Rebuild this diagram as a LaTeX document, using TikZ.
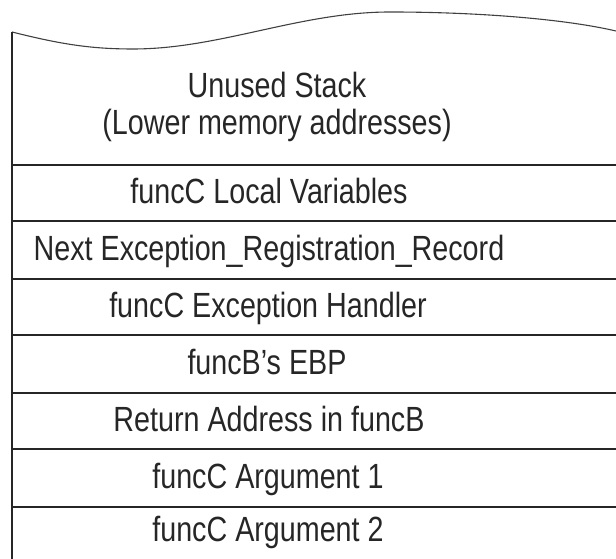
\documentclass[tikz,border=0pt]{standalone}
\usepackage{fontspec}
\setmainfont{Liberation Sans}[FakeStretch=0.82]
\begin{document}
\begin{tikzpicture}[x=1pt,y=1pt,
  frame/.style={line width=1.6pt, draw=black!85},
  wave/.style={line width=1.1pt, draw=black!75},
  cell/.style={anchor=base, inner sep=0pt, font=\fontsize{35}{37.5}\selectfont, text=black!85}]
  \useasboundingbox (0,0) rectangle (616,559);

  % torn top edge of the stack
  \coordinate (w0) at (12,527);
  \coordinate (w3) at (616,528);
  \draw[wave] (w0) .. controls (60,515) and (90,510) .. (133,510)
              .. controls (220,510) and (300,547) .. (390,547)
              .. controls (470,547) and (560,541) .. (w3);

  % left wall
  \coordinate (b0) at (12,0);
  \draw[frame] (w0) -- (b0);

  % slot separators
  \foreach \y/\n in {394/s1,338/s2,280/s3,224/s4,166/s5,110/s6,52/s7} {
    \coordinate (\n l) at (12,\y);
    \coordinate (\n r) at (616,\y);
    \draw[frame] (\n l) -- (\n r);
  }

  % slot contents
  \node[cell] (unused1) at (277,461.7) {Unused Stack};
  \node[cell] (unused2) at (277,424) {(Lower memory addresses)};
  \node[cell] (locals)  at (269,355) {funcC Local Variables};
  \node[cell] (nextrec) at (269,298) {Next Exception\_Registration\_Record};
  \node[cell] (handler) at (268,241) {funcC Exception Handler};
  \node[cell] (ebp)     at (267,184) {funcB’s EBP};
  \node[cell] (retaddr) at (269,127) {Return Address in funcB};
  \node[cell] (arg1)    at (268,70)  {funcC Argument 1};
  \node[cell] (arg2)    at (268,17.5) {funcC Argument 2};
\end{tikzpicture}
\end{document}
